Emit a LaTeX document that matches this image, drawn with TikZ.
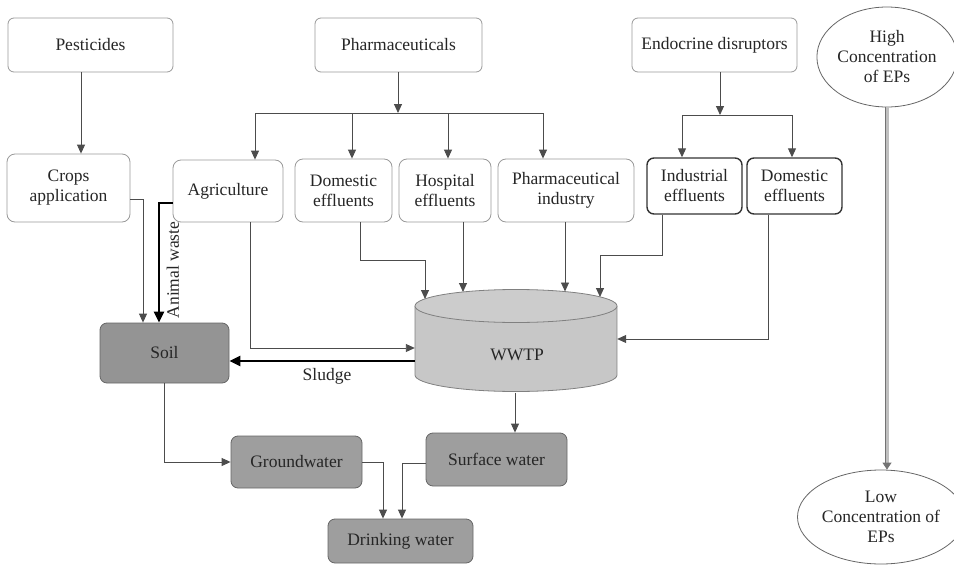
\documentclass[tikz,border=0pt]{standalone}
\usepackage{fontspec}
\setmainfont{Liberation Serif}
\usetikzlibrary{arrows.meta,shapes.geometric}
\begin{document}
\begin{tikzpicture}[x=1pt,y=-1pt,
 txt/.style={font=\fontsize{17.5}{20}\selectfont, text=black!85},
 wbox/.style={txt, draw=black!40, fill=white, rounded corners=6pt, align=center, inner sep=0pt, line width=0.8pt},
 dbox/.style={txt, draw=black!80, fill=white, rounded corners=7pt, align=center, inner sep=0pt, line width=1.4pt},
 gbox/.style={txt, draw=black!60, fill=black!42, rounded corners=7pt, align=center, inner sep=0pt, line width=0.8pt},
 ebox/.style={txt, ellipse, draw=black!60, fill=white, align=center, inner sep=0pt, line width=0.8pt},
 arr/.style={draw=black!70, line width=0.9pt, -{Triangle[length=9pt,width=8pt]}},
 plain/.style={draw=black!70, line width=0.9pt},
 tarr/.style={draw=black, line width=2.2pt, -{Triangle[length=11pt,width=10pt]}},
]
\useasboundingbox (0,0) rectangle (954,565);

% guide coordinates
\coordinate (x81) at (81,0);
\coordinate (x143) at (143,0);
\coordinate (x159) at (159,0);
\coordinate (x250) at (250,0);
\coordinate (x360) at (360,0);
\coordinate (x383) at (383,0);
\coordinate (x402) at (402,0);
\coordinate (x515) at (515,0);
\coordinate (x662) at (662,0);
\coordinate (x768) at (768,0);
\coordinate (y199) at (0,199);
\coordinate (y203) at (0,203);
\coordinate (y255) at (0,255);
\coordinate (y260) at (0,260);
\coordinate (y339) at (0,339);
\coordinate (y348) at (0,348);
\coordinate (y361) at (0,361);
\coordinate (y463) at (0,463);

% top row
\node[wbox, minimum width=165pt, minimum height=54pt] (pest) at (90.5,45) {Pesticides};
\node[wbox, minimum width=167pt, minimum height=54pt] (pharma) at (398.5,45) {Pharmaceuticals};
\node[wbox, minimum width=165pt, minimum height=54pt] (endo) at (714.5,45) {Endocrine disruptors};

% second row
\node[wbox, minimum width=123pt, minimum height=68pt, rounded corners=8pt] (crops) at (68.5,188) {Crops\\application};
\node[wbox, minimum width=110pt, minimum height=62pt, rounded corners=8pt] (agri) at (228,191) {Agriculture};
\node[wbox, minimum width=97pt, minimum height=63pt, rounded corners=8pt] (dom) at (343.5,190.5) {Domestic\\effluents};
\node[wbox, minimum width=92pt, minimum height=63pt, rounded corners=8pt] (hosp) at (445,190.5) {Hospital\\effluents};
\node[wbox, minimum width=136pt, minimum height=63pt, rounded corners=8pt] (pind) at (566,190.5) {Pharmaceutical\\industry};
\node[dbox, minimum width=95pt, minimum height=56pt] (ind) at (694.5,186) {Industrial\\effluents};
\node[dbox, minimum width=95pt, minimum height=56pt] (dom2) at (794.5,186) {Domestic\\effluents};

% WWTP cylinder
\fill[black!22] (415,306) rectangle (617,375);
\fill[black!22] (516,375) ellipse[x radius=101pt, y radius=16.5pt];
\draw[black!50, line width=0.8pt] (415,306) -- (415,375) arc[start angle=180, end angle=360, x radius=101pt, y radius=16.5pt] -- (617,306);
\filldraw[fill=black!20, draw=black!50, line width=0.8pt] (516,306) ellipse[x radius=101pt, y radius=16.5pt];
\node[minimum width=202pt, minimum height=103pt, inner sep=0pt] (wwtp) at (516,341) {};
\node[txt] (wwtplbl) at (517,355) {WWTP};
\coordinate (ct1) at (425,299);
\coordinate (ct2) at (463,292);
\coordinate (ct3) at (565,291.5);
\coordinate (ct4) at (600,297);

% lower boxes
\node[gbox, minimum width=129pt, minimum height=60pt] (soil) at (164.5,353) {Soil};
\node[gbox, minimum width=131pt, minimum height=52pt, fill=black!38] (gw) at (296.5,462) {Groundwater};
\node[gbox, minimum width=141pt, minimum height=53pt, fill=black!38] (sw) at (496.5,459.5) {Surface water};
\node[gbox, minimum width=145pt, minimum height=44pt, fill=black!38] (dw) at (400.5,541) {Drinking water};

% ellipses
\node[ebox, minimum width=132pt, minimum height=100pt] (high) at (887,57) {High\\Concentration\\of EPs};
\node[ebox, minimum width=146pt, minimum height=94pt] (low) at (881,517) {Low\\Concentration of\\EPs};

% connectors
\draw[arr] (x81 |- pest.south) -- (x81 |- crops.north);

\coordinate (pf) at (398,113);
\draw[arr] (pf |- pharma.south) -- (pf);
\coordinate (pfa) at (255,113);
\coordinate (pfb) at (352,113);
\coordinate (pfc) at (448,113);
\coordinate (pfd) at (543,113);
\draw[plain] (pfa) -- (pfd);
\draw[arr] (pfa) -- (pfa |- agri.north);
\draw[arr] (pfb) -- (pfb |- dom.north);
\draw[arr] (pfc) -- (pfc |- hosp.north);
\draw[arr] (pfd) -- (pfd |- pind.north);

\coordinate (ef) at (720,115);
\coordinate (efa) at (682,115);
\coordinate (efb) at (792,115);
\draw[arr] (ef |- endo.south) -- (ef);
\draw[plain] (efa) -- (efb);
\draw[arr] (efa) -- (efa |- ind.north);
\draw[arr] (efb) -- (efb |- dom2.north);

\draw[arr] (crops.east |- y199) -| (x143 |- soil.north);
\draw[tarr] (agri.west |- y203) -| (x159 |- soil.north);
\node[txt, rotate=90, inner sep=0pt] (animal) at (173,270) {Animal waste};

\draw[arr] (x250 |- agri.south) |- (wwtp.west |- y348);
\draw[arr] (x360 |- dom.south) |- (ct1 |- y260) -- (ct1);
\draw[arr] (ct2 |- hosp.south) -- (ct2);
\draw[arr] (ct3 |- pind.south) -- (ct3);
\draw[arr] (x662 |- ind.south) |- (ct4 |- y255) -- (ct4);
\draw[arr] (x768 |- dom2.south) |- (wwtp.east |- y339);

\draw[tarr] (wwtp.west |- y361) -- (soil.east |- y361);
\node[txt] (sludge) at (327,376) {Sludge};

\draw[arr] (soil.south) |- (gw.west);
\draw[arr] (x515 |- wwtp.south) -- (x515 |- sw.north);
\draw[arr] (gw.east) -| (x383 |- dw.north);
\draw[arr] (sw.west |- y463) -| (x402 |- dw.north);

\coordinate (hx) at (887,0);
\draw[draw=black!55, double=black!25, double distance=3pt, line width=0.8pt, -{Triangle[length=7pt,width=9pt]}] (hx |- high.south) -- (hx |- low.north);
\end{tikzpicture}
\end{document}
